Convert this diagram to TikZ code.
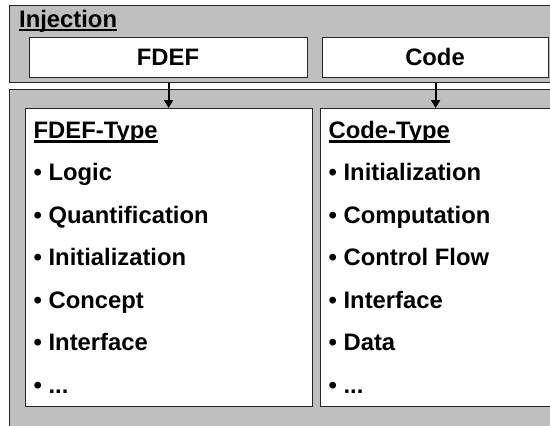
\documentclass[tikz,border=0pt]{standalone}
\usepackage{fontspec}
\setmainfont{Liberation Sans}
\usetikzlibrary{arrows.meta}
\tikzset{
  graybox/.style={draw=black!85, line width=1.2pt, fill=black!25, anchor=north west, inner sep=0pt},
  whitebox/.style={draw=black!85, line width=1.2pt, fill=white, anchor=north west, inner sep=0pt},
  txt/.style={anchor=base west, inner sep=0pt, font=\fontsize{23.8}{28}\selectfont\bfseries},
  ctxt/.style={anchor=base, inner sep=0pt, font=\fontsize{23.8}{28}\selectfont\bfseries},
  uline/.style={line width=2.2pt},
  arr/.style={line width=1.8pt, -{Triangle[length=8pt,width=9pt]}}
}
\begin{document}
\begin{tikzpicture}[x=1pt,y=-1pt]
\clip (0,0) rectangle (550,426);
\fill[white] (0,0) rectangle (550,426);
% outer gray boxes
\node[graybox, minimum width=560pt, minimum height=77pt] (inj) at (8.5,5) {};
\node[graybox, minimum width=560pt, minimum height=360pt] (types) at (8.5,89) {};
% top white boxes
\node[whitebox, minimum width=278pt, minimum height=40pt] (fdef) at (29,37) {};
\node[whitebox, minimum width=226pt, minimum height=40pt] (code) at (322,37) {};
\node[ctxt] (fdeflbl) at (168,65) {FDEF};
\node[ctxt] (codelbl) at (435,65) {Code};
% title
\node[txt] (injlbl) at (19,27) {Injection};
\draw[uline] ([yshift=-2.8pt]injlbl.base west) -- ([yshift=-2.8pt]injlbl.base east);
% lower white boxes
\node[whitebox, minimum width=287pt, minimum height=298pt] (fdeftype) at (25,108) {};
\node[whitebox, minimum width=240pt, minimum height=298pt] (codetype) at (320,108) {};
% arrows
\draw[arr] (fdef.south |- inj.south) -- (fdef.south |- fdeftype.north);
\draw[arr] (code.south |- inj.south) -- (code.south |- codetype.north);
% FDEF column
\node[txt] (fh) at (33.5,138) {FDEF-Type};
\draw[uline] ([yshift=-3.5pt]fh.base west) -- ([yshift=-3.5pt]fh.base east);
\node[txt] (f1) at (33.5,180.5) {• Logic};
\node[txt] (f2) at (33.5,223) {• Quantification};
\node[txt] (f3) at (33.5,265.5) {• Initialization};
\node[txt] (f4) at (33.5,308) {• Concept};
\node[txt] (f5) at (33.5,350.5) {• Interface};
\node[txt] (f6) at (33.5,393) {• ...};
% Code column
\node[txt] (ch) at (328.5,138) {Code-Type};
\draw[uline] ([yshift=-3.5pt]ch.base west) -- ([yshift=-3.5pt]ch.base east);
\node[txt] (c1) at (328.5,180.5) {• Initialization};
\node[txt] (c2) at (328.5,223) {• Computation};
\node[txt] (c3) at (328.5,265.5) {• Control Flow};
\node[txt] (c4) at (328.5,308) {• Interface};
\node[txt] (c5) at (328.5,350.5) {• Data};
\node[txt] (c6) at (328.5,393) {• ...};
\end{tikzpicture}
\end{document}
